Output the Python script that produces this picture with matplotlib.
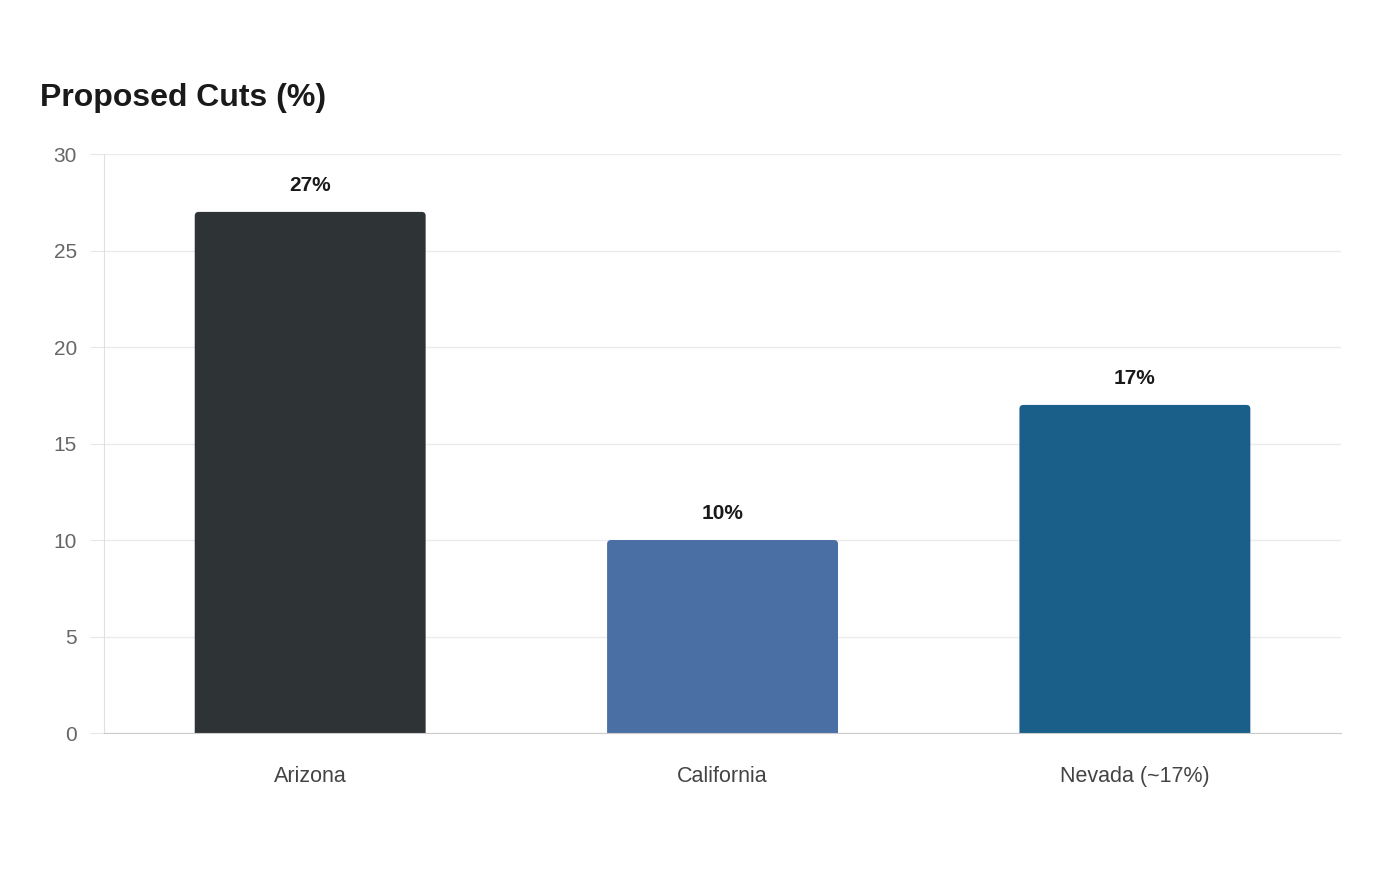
import matplotlib
matplotlib.use("Agg")
import matplotlib.pyplot as plt
from matplotlib.patches import FancyBboxPatch

categories = ["Arizona", "California", "Nevada (~17%)"]
values = [27, 10, 17]
labels = ["27%", "10%", "17%"]
colors = ["#2e3436", "#4a6fa5", "#1a5f8a"]
yticks = [0, 5, 10, 15, 20, 25, 30]

plt.rcParams['font.family'] = ['Liberation Sans', 'DejaVu Sans']

fig = plt.figure(figsize=(14, 8.8), dpi=100)
ax = fig.add_axes([0.0743, 0.167, 0.8836, 0.658])
ax.set_xlim(-0.5, 2.5)
ax.set_ylim(0, 30)

W = 0.56
xpp = 3 / (0.8836 * 1400)
ypp = 30 / (0.658 * 880)
r = 4 * xpp
for i, (v, c) in enumerate(zip(values, colors)):
    p = FancyBboxPatch((i - W / 2, -2), W, v + 2,
                       boxstyle=f"round,pad=0,rounding_size={r}",
                       mutation_aspect=ypp / xpp,
                       facecolor=c, edgecolor="none", zorder=3)
    ax.add_patch(p)
    ax.text(i, v + 1.1, labels[i], ha="center", va="baseline",
            fontsize=15, fontweight="bold", color="#1a1a1a")

ax.set_yticks(yticks)
ax.set_xticks(range(len(categories)))
ax.set_xticklabels(categories, fontsize=15.5, color="#444444")
ax.tick_params(axis="x", length=0, pad=23.5)
ax.tick_params(axis="y", length=10, color="#e6e6e6", labelsize=15,
               labelcolor="#666666", pad=9.6)
ax.grid(axis="y", color="#ebebeb", linewidth=1, zorder=0)
ax.set_axisbelow(True)
for s in ["top", "right"]:
    ax.spines[s].set_visible(False)
ax.spines["left"].set_color("#e0e0e0")
ax.spines["bottom"].set_color("#cccccc")
ax.spines["bottom"].set_zorder(4)

fig.text(40 / 1400, 1 - 106 / 880, "Proposed Cuts (%)", fontsize=23,
         fontweight="bold", color="#1a1a1a", va="baseline", ha="left")

fig.savefig("out.png", dpi=100, facecolor="white")
